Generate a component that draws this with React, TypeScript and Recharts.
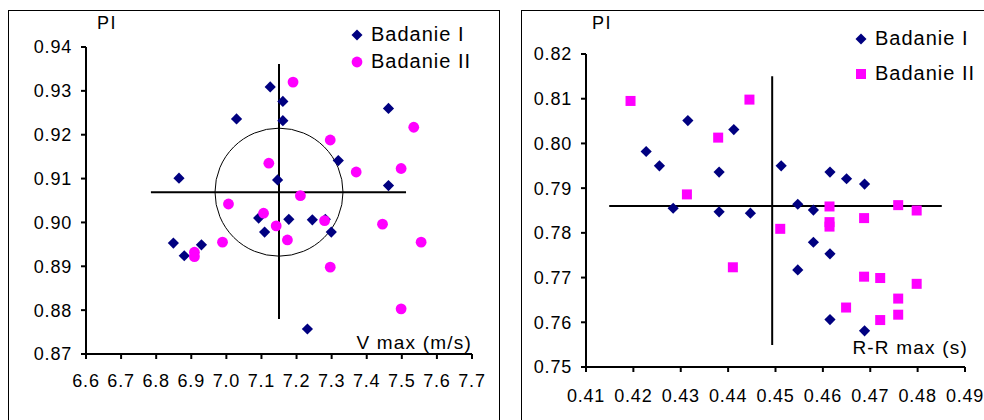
import React from "react";
import {
  Legend,
  ReferenceDot,
  ReferenceLine,
  Scatter,
  ScatterChart,
  XAxis,
  YAxis,
} from "recharts";

// PI vs Vmax (m/s), study I and II
const vmaxStudy1: [number, number][] = [
  [6.865, 0.9101], [6.849, 0.8953], [6.88, 0.8924], [6.929, 0.8949], [7.029, 0.9236],
  [7.125, 0.9309], [7.161, 0.9276], [7.161, 0.9232], [7.146, 0.9097], [7.092, 0.901],
  [7.109, 0.8978], [7.178, 0.9007], [7.245, 0.9006], [7.282, 0.9007], [7.299, 0.8978],
  [7.319, 0.9141], [7.462, 0.926], [7.462, 0.9084], [7.231, 0.8757],
];
const vmaxStudy2: [number, number][] = [
  [6.909, 0.8932], [6.909, 0.8922], [6.989, 0.8955], [7.006, 0.9042], [7.106, 0.9021],
  [7.121, 0.9135], [7.142, 0.8992], [7.174, 0.896], [7.19, 0.932], [7.211, 0.9061],
  [7.28, 0.9004], [7.296, 0.9188], [7.296, 0.8898], [7.37, 0.9115], [7.445, 0.8996],
  [7.498, 0.9123], [7.534, 0.9217], [7.555, 0.8955], [7.498, 0.8803],
];
const vmaxTicks = [6.6, 6.7, 6.8, 6.9, 7.0, 7.1, 7.2, 7.3, 7.4, 7.5, 7.6, 7.7];
const piTicksA = [0.87, 0.88, 0.89, 0.9, 0.91, 0.92, 0.93, 0.94];
// crosshair: mean point and the extent of both arms
const vmaxCross = { x: 7.15, y: 0.9069, x0: 6.785, x1: 7.512, y0: 0.878, y1: 0.9361 };

// PI vs R-R max (s), study I and II
const rrStudy1: [number, number][] = [
  [0.4227, 0.7982], [0.4255, 0.795], [0.4284, 0.7855], [0.4315, 0.8051], [0.4381, 0.7936],
  [0.4381, 0.7847], [0.4412, 0.8031], [0.4447, 0.7844], [0.4512, 0.795], [0.4547, 0.7864],
  [0.458, 0.7851], [0.458, 0.7779], [0.4547, 0.7717], [0.4615, 0.7936], [0.465, 0.7921],
  [0.4688, 0.7909], [0.4615, 0.7753], [0.4615, 0.7606], [0.4688, 0.7581],
];
const rrStudy2: [number, number][] = [
  [0.4194, 0.8095], [0.4313, 0.7886], [0.4379, 0.8013], [0.441, 0.7723], [0.4445, 0.8098],
  [0.451, 0.7809], [0.4614, 0.7859], [0.4614, 0.7824], [0.4614, 0.7814], [0.4649, 0.7633],
  [0.4687, 0.7833], [0.4687, 0.7702], [0.4721, 0.7699], [0.4721, 0.7605], [0.4759, 0.7862],
  [0.4759, 0.7653], [0.4759, 0.7617], [0.4798, 0.785], [0.4798, 0.7686],
];
const rrTicks = [0.41, 0.42, 0.43, 0.44, 0.45, 0.46, 0.47, 0.48, 0.49];
const piTicksB = [0.75, 0.76, 0.77, 0.78, 0.79, 0.8, 0.81, 0.82];
const rrCross = { x: 0.4493, y: 0.786, x0: 0.4149, x1: 0.4851, y0: 0.7549, y1: 0.815 };

const NAVY = "#000080";
const MAGENTA = "#ff00ff";
const FONT = '"Liberation Sans", Arial, sans-serif';

const toPts = (rows: [number, number][]) => rows.map(([x, y]) => ({ x, y }));

const Diamond = (p: any) => {
  const r = 5.6;
  return <path d={`M${p.cx},${p.cy - r}L${p.cx + r},${p.cy}L${p.cx},${p.cy + r}L${p.cx - r},${p.cy}Z`} fill={NAVY} />;
};
const Dot = (p: any) => <circle cx={p.cx} cy={p.cy} r={5.4} fill={MAGENTA} />;
const Square = (p: any) => <rect x={p.cx - 5} y={p.cy - 5} width={10} height={10} fill={MAGENTA} />;

const tickStyle = { fontSize: 18, fill: "#000", letterSpacing: 0.8, fontFamily: FONT };
const axisStroke = { stroke: "#000", strokeWidth: 2 };

function LegendBox({ second, rowH }: { second: "dot" | "square"; rowH: number }) {
  const rows = [
    { label: "Badanie I", mark: <path d="M6,0.5L11.5,6L6,11.5L0.5,6Z" fill={NAVY} /> },
    {
      label: "Badanie II",
      mark: second === "dot" ? <circle cx={6} cy={6} r={5.4} fill={MAGENTA} /> : <rect x={1} y={1} width={10} height={10} fill={MAGENTA} />,
    },
  ];
  return (
    <div style={{ fontFamily: FONT, fontSize: 20, letterSpacing: 1, color: "#000" }}>
      {rows.map((r) => (
        <div key={r.label} style={{ height: rowH, display: "flex", alignItems: "center", whiteSpace: "nowrap" }}>
          <svg width={12} height={12} style={{ marginRight: 8 }}>{r.mark}</svg>
          {r.label}
        </div>
      ))}
    </div>
  );
}

const frame = (left: number, width: number): React.CSSProperties => ({
  position: "absolute",
  left,
  top: 10,
  width,
  height: 430,
  border: "1px solid #000",
  boxSizing: "border-box",
});

export default function App() {
  return (
    <div style={{ position: "absolute", left: 0, top: 0, width: 984, height: 420, overflow: "hidden", background: "#fff", fontFamily: FONT }}>
      <div style={frame(8, 492)} />
      <div style={frame(521, 480)} />

      <div style={{ position: "absolute", left: 8, top: 10 }}>
        <ScatterChart width={492} height={410} margin={{ top: 37, right: 28, left: 0, bottom: 0 }}>
          <XAxis
            type="number"
            dataKey="x"
            domain={[6.6, 7.7]}
            ticks={vmaxTicks}
            interval={0}
            tickFormatter={(v: number) => v.toFixed(1)}
            tick={tickStyle}
            tickSize={5}
            tickMargin={15}
            axisLine={axisStroke}
            tickLine={axisStroke}
            height={66}
            label={{
              content: ({ viewBox }: any) => (
                <text x={viewBox.x + viewBox.width} y={viewBox.y - 5} textAnchor="end" fontSize={19} letterSpacing={1.2} fontFamily={FONT}>
                  V max (m/s)
                </text>
              ),
            }}
          />
          <YAxis
            type="number"
            dataKey="y"
            domain={[0.87, 0.94]}
            ticks={piTicksA}
            interval={0}
            tickFormatter={(v: number) => v.toFixed(2)}
            tick={tickStyle}
            tickSize={5}
            tickMargin={9}
            axisLine={axisStroke}
            tickLine={axisStroke}
            width={78}
            label={{
              content: ({ viewBox }: any) => (
                <text x={viewBox.x + viewBox.width + 11} y={viewBox.y - 17.6} fontSize={18} letterSpacing={1.5} fontFamily={FONT}>
                  PI
                </text>
              ),
            }}
          />
          <ReferenceLine segment={[{ x: vmaxCross.x0, y: vmaxCross.y }, { x: vmaxCross.x1, y: vmaxCross.y }]} stroke="#000" strokeWidth={2} />
          <ReferenceLine segment={[{ x: vmaxCross.x, y: vmaxCross.y0 }, { x: vmaxCross.x, y: vmaxCross.y1 }]} stroke="#000" strokeWidth={2} />
          <ReferenceDot x={vmaxCross.x} y={vmaxCross.y} r={64} fill="none" stroke="#000" strokeWidth={1} />
          <Scatter name="Badanie I" data={toPts(vmaxStudy1)} shape={Diamond} isAnimationActive={false} />
          <Scatter name="Badanie II" data={toPts(vmaxStudy2)} shape={Dot} isAnimationActive={false} />
          <Legend
            layout="vertical"
            align="center"
            verticalAlign="middle"
            wrapperStyle={{ top: 11, left: 343, width: "auto" }}
            content={() => <LegendBox second="dot" rowH={27} />}
          />
        </ScatterChart>
      </div>

      <div style={{ position: "absolute", left: 521, top: 10 }}>
        <ScatterChart width={463} height={410} margin={{ top: 44, right: 19, left: 0, bottom: 0 }}>
          <XAxis
            type="number"
            dataKey="x"
            domain={[0.41, 0.49]}
            ticks={rrTicks}
            interval={0}
            tickFormatter={(v: number) => v.toFixed(2)}
            tick={tickStyle}
            tickSize={5}
            tickMargin={17}
            axisLine={axisStroke}
            tickLine={axisStroke}
            height={53}
            label={{
              content: ({ viewBox }: any) => (
                <text x={viewBox.x + viewBox.width + 3} y={viewBox.y - 13} textAnchor="end" fontSize={19} letterSpacing={1.2} fontFamily={FONT}>
                  R-R max (s)
                </text>
              ),
            }}
          />
          <YAxis
            type="number"
            dataKey="y"
            domain={[0.75, 0.82]}
            ticks={piTicksB}
            interval={0}
            tickFormatter={(v: number) => v.toFixed(2)}
            tick={tickStyle}
            tickSize={5}
            tickMargin={9}
            axisLine={axisStroke}
            tickLine={axisStroke}
            width={65}
            label={{
              content: ({ viewBox }: any) => (
                <text x={viewBox.x + viewBox.width + 6} y={viewBox.y - 25} fontSize={18} letterSpacing={1.5} fontFamily={FONT}>
                  PI
                </text>
              ),
            }}
          />
          <ReferenceLine segment={[{ x: rrCross.x0, y: rrCross.y }, { x: rrCross.x1, y: rrCross.y }]} stroke="#000" strokeWidth={2} />
          <ReferenceLine segment={[{ x: rrCross.x, y: rrCross.y0 }, { x: rrCross.x, y: rrCross.y1 }]} stroke="#000" strokeWidth={2} />
          <Scatter name="Badanie I" data={toPts(rrStudy1)} shape={Diamond} isAnimationActive={false} />
          <Scatter name="Badanie II" data={toPts(rrStudy2)} shape={Square} isAnimationActive={false} />
          <Legend
            layout="vertical"
            align="center"
            verticalAlign="middle"
            wrapperStyle={{ top: 11, left: 334, width: "auto" }}
            content={() => <LegendBox second="square" rowH={35} />}
          />
        </ScatterChart>
      </div>
    </div>
  );
}
